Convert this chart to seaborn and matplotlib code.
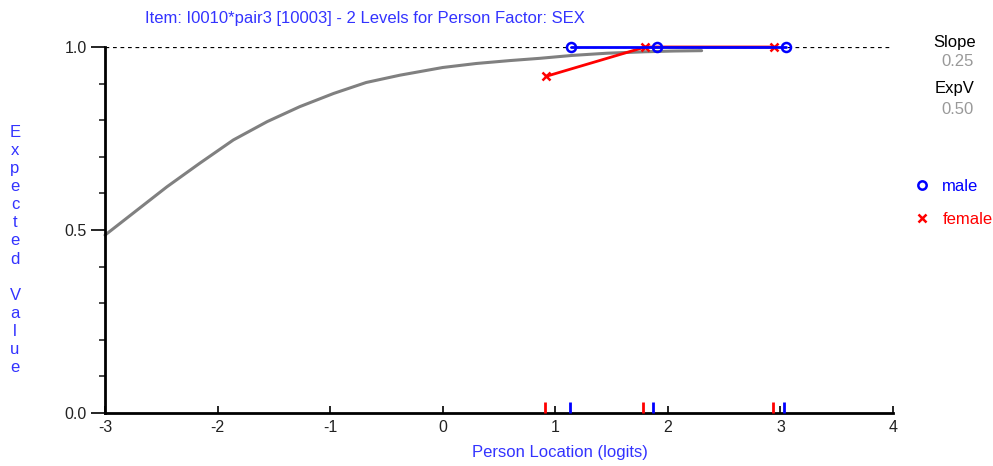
import numpy as np
import pandas as pd
import matplotlib
matplotlib.use("Agg")
import matplotlib.pyplot as plt
from matplotlib.lines import Line2D
from matplotlib.ticker import MultipleLocator
import seaborn as sns

# ---- data ----
curve_x = [-3.0, -2.75, -2.45, -2.16, -1.86, -1.56, -1.27, -0.97, -0.68, -0.38, 0.0, 0.3, 0.6, 0.86, 1.15, 1.46, 1.8, 2.05, 2.3]
curve_y = [0.486, 0.546, 0.618, 0.682, 0.746, 0.796, 0.837, 0.873, 0.903, 0.923, 0.944, 0.955, 0.963, 0.969, 0.977, 0.983, 0.987, 0.989, 0.990]

male_x = [1.14, 1.90, 3.05]
male_y = [1.0, 1.0, 1.0]
female_x = [0.92, 1.80, 2.94]
female_y = [0.92, 1.0, 1.0]

male_rug = [1.13, 1.87, 3.03]
female_rug = [0.91, 1.78, 2.93]

title = "Item: I0010*pair3 [10003] - 2 Levels for Person Factor: SEX"
xlabel = "Person Location (logits)"
ylabel = "Expected Value"
x_ticks = [-3, -2, -1, 0, 1, 2, 3, 4]
y_ticks = [0.0, 0.5, 1.0]
y_ticklabels = ["0.0", "0.5", "1.0"]

# ---- style ----
sns.set_style("white")
plt.rcParams["font.family"] = ["Liberation Sans", "DejaVu Sans"]

W, H = 993, 466
fig = plt.figure(figsize=(W / 100, H / 100), dpi=100)
ax = fig.add_axes([105 / W, 1 - 413 / H, (893 - 105) / W, (413 - 47) / H])

BLUE = "#0000FF"
RED = "#FF0000"
TXT_BLUE = "#3333FF"
FS = 12

curve_df = pd.DataFrame({"x": curve_x, "y": curve_y})
sns.lineplot(data=curve_df, x="x", y="y", ax=ax, color="#808080", linewidth=2.2,
             clip_on=False, zorder=2)

# dashed reference line at 1.0
ax.axhline(1.0, color="black", linestyle=(0, (3, 3)), linewidth=0.9, zorder=1)

male_df = pd.DataFrame({"x": male_x, "y": male_y})
female_df = pd.DataFrame({"x": female_x, "y": female_y})
sns.lineplot(data=male_df, x="x", y="y", ax=ax, color=BLUE, linewidth=2.0,
             marker="o", markersize=6.5, markerfacecolor="none", markeredgecolor=BLUE,
             markeredgewidth=1.8, clip_on=False, zorder=4)
sns.lineplot(data=female_df, x="x", y="y", ax=ax, color=RED, linewidth=2.0,
             marker="x", markersize=6, markeredgecolor=RED, markeredgewidth=1.8,
             clip_on=False, zorder=3)

sns.rugplot(x=female_rug, ax=ax, height=0.03, color=RED, linewidth=2.0, clip_on=False, zorder=5)
sns.rugplot(x=male_rug, ax=ax, height=0.03, color=BLUE, linewidth=2.0, clip_on=False, zorder=5)

ax.set_xlim(-3, 4)
ax.set_ylim(0, 1)
ax.set_xlabel("")
ax.set_ylabel("")

for s in ["top", "right"]:
    ax.spines[s].set_visible(False)
for s in ["left", "bottom"]:
    ax.spines[s].set_color("black")
    ax.spines[s].set_linewidth(2.0)

ax.set_xticks(x_ticks)
ax.set_xticklabels([str(t) for t in x_ticks])
ax.set_yticks(y_ticks)
ax.set_yticklabels(y_ticklabels)
ax.yaxis.set_minor_locator(MultipleLocator(0.1))
ax.tick_params(axis="x", direction="in", length=5, width=1.2, pad=5,
               labelsize=11.5, colors="black", bottom=True)
ax.tick_params(axis="y", which="major", direction="out", length=10, width=1.2, pad=3,
               labelsize=11.5, colors="black", left=True)
ax.tick_params(axis="y", which="minor", direction="out", length=4.5, width=1.2, left=True)
for lab in ax.get_xticklabels() + ax.get_yticklabels():
    lab.set_color("#222222")

# texts
fig.text(145 / W, 1 - 18 / H, title, color=TXT_BLUE, fontsize=FS, ha="left", va="center")
fig.text(560 / W, 1 - 453 / H, xlabel, color=TXT_BLUE, fontsize=FS, ha="center", va="center")
fig.text(15 / W, 1 - 250 / H, "\n".join(list(ylabel)), color=TXT_BLUE, fontsize=FS,
         ha="center", va="center", linespacing=1.26)

fig.text(976 / W, 1 - 42 / H, "Slope", color="black", fontsize=FS, ha="right", va="center")
fig.text(974 / W, 1 - 62 / H, "0.25", color="#999999", fontsize=FS, ha="right", va="center")
fig.text(974 / W, 1 - 89 / H, "ExpV", color="black", fontsize=FS, ha="right", va="center")
fig.text(974 / W, 1 - 110 / H, "0.50", color="#999999", fontsize=FS, ha="right", va="center")

handles = [
    Line2D([], [], linestyle="none", marker="o", markersize=6, markerfacecolor="none",
           markeredgecolor=BLUE, markeredgewidth=1.8, label="male"),
    Line2D([], [], linestyle="none", marker="x", markersize=5.5, markeredgecolor=RED,
           markeredgewidth=1.8, label="female"),
]
leg = fig.legend(handles=handles, loc="upper left", bbox_to_anchor=(914 / W, 1 - 179 / H),
                 frameon=False, fontsize=FS, handlelength=1.0, handletextpad=0.7,
                 labelspacing=1.05, borderaxespad=0, borderpad=0)
for t, c in zip(leg.get_texts(), [BLUE, RED]):
    t.set_color(c)

fig.savefig("out.png", dpi=100)
